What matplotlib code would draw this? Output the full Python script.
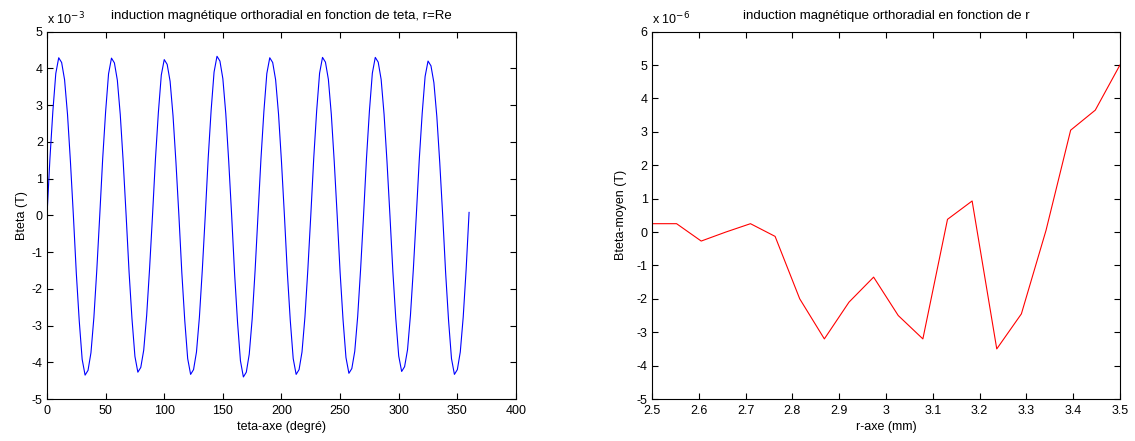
import numpy as np
import matplotlib.pyplot as plt

plt.rcParams['font.family'] = ['Liberation Sans', 'DejaVu Sans']
plt.rcParams['axes.unicode_minus'] = False

# Bteta en fonction de teta (unite 1e-3 T), pas de 2.5 degres
bteta = [
    0, 1.54, 2.83, 3.86, 4.29, 4.16, 3.69, 2.75, 1.46,
    0, -1.57, -2.87, -3.92, -4.35, -4.22, -3.74, -2.78, -1.48,
    0, 1.54, 2.82, 3.85, 4.28, 4.15, 3.68, 2.74, 1.46,
    0, -1.54, -2.82, -3.84, -4.27, -4.14, -3.67, -2.73, -1.45,
    0, 1.53, 2.80, 3.82, 4.24, 4.11, 3.65, 2.71, 1.44,
    0, -1.56, -2.86, -3.90, -4.33, -4.20, -3.72, -2.77, -1.47,
    0, 1.56, 2.86, 3.90, 4.33, 4.20, 3.72, 2.77, 1.47,
    0, -1.58, -2.90, -3.96, -4.40, -4.27, -3.78, -2.82, -1.50,
    0, 1.54, 2.83, 3.86, 4.29, 4.16, 3.69, 2.75, 1.46,
    0, -1.56, -2.86, -3.90, -4.33, -4.20, -3.72, -2.77, -1.47,
    0, 1.55, 2.84, 3.87, 4.30, 4.17, 3.70, 2.75, 1.46,
    0, -1.55, -2.84, -3.87, -4.30, -4.17, -3.70, -2.75, -1.46,
    0, 1.55, 2.84, 3.87, 4.30, 4.17, 3.70, 2.75, 1.46,
    0, -1.53, -2.81, -3.83, -4.25, -4.12, -3.66, -2.72, -1.45,
    0, 1.51, 2.77, 3.78, 4.20, 4.07, 3.61, 2.69, 1.43,
    0, -1.56, -2.86, -3.90, -4.33, -4.20, -3.72, -2.77, -1.47,
    0.08,
]
teta = np.linspace(0, 360, len(bteta))

# Bteta moyen en fonction de r (unite 1e-6 T)
bmoy = [0.25, 0.25, -0.27, 0.0, 0.25, -0.13, -2.0, -3.2, -2.1, -1.35,
        -2.5, -3.2, 0.38, 0.93, -3.5, -2.45, 0.05, 3.05, 3.65, 5.0]
r = np.linspace(2.5, 3.5, len(bmoy))

fs = 9
fig = plt.figure(figsize=(11.35, 4.41), dpi=100)

ax1 = fig.add_axes([0.0414, 0.0952, 0.4132, 0.833])
ax1.plot(teta, bteta, color=(0, 0, 1), lw=0.8)
ax1.set_xlim(0, 400)
ax1.set_ylim(-5, 5)
ax1.set_xticks(range(0, 401, 50))
ax1.set_yticks(range(-5, 6))
ax1.set_xlabel("teta-axe (degré)", fontsize=fs, labelpad=3)
ax1.set_ylabel("Bteta (T)", fontsize=fs, labelpad=3)
ax1.set_title("induction magnétique orthoradial en fonction de teta, r=Re", fontsize=fs + 0.5, pad=9)
ax1.text(0.0, 1.012, r"x 10$^{-3}$", transform=ax1.transAxes, fontsize=fs, va="bottom")

ax2 = fig.add_axes([0.5744, 0.0952, 0.4123, 0.833])
ax2.plot(r, bmoy, color=(1, 0, 0), lw=0.8)
ax2.set_xlim(2.5, 3.5)
ax2.set_ylim(-5, 6)
ax2.set_xticks(np.round(np.arange(2.5, 3.51, 0.1), 1))
ax2.set_xticklabels(["2.5", "2.6", "2.7", "2.8", "2.9", "3", "3.1", "3.2", "3.3", "3.4", "3.5"])
ax2.set_yticks(range(-5, 7))
ax2.set_xlabel("r-axe (mm)", fontsize=fs, labelpad=3)
ax2.set_ylabel("Bteta-moyen (T)", fontsize=fs, labelpad=7)
ax2.set_title("induction magnétique orthoradial en fonction de r", fontsize=fs + 0.5, pad=9)
ax2.text(0.0, 1.012, r"x 10$^{-6}$", transform=ax2.transAxes, fontsize=fs, va="bottom")

for ax in (ax1, ax2):
    ax.tick_params(direction="in", top=True, right=True, labelsize=fs, length=4.5, width=0.8)
    ax.tick_params(axis="x", pad=4.5)
    ax.tick_params(axis="y", pad=3)
    for s in ax.spines.values():
        s.set_linewidth(0.8)

fig.savefig("out.png", dpi=100)
